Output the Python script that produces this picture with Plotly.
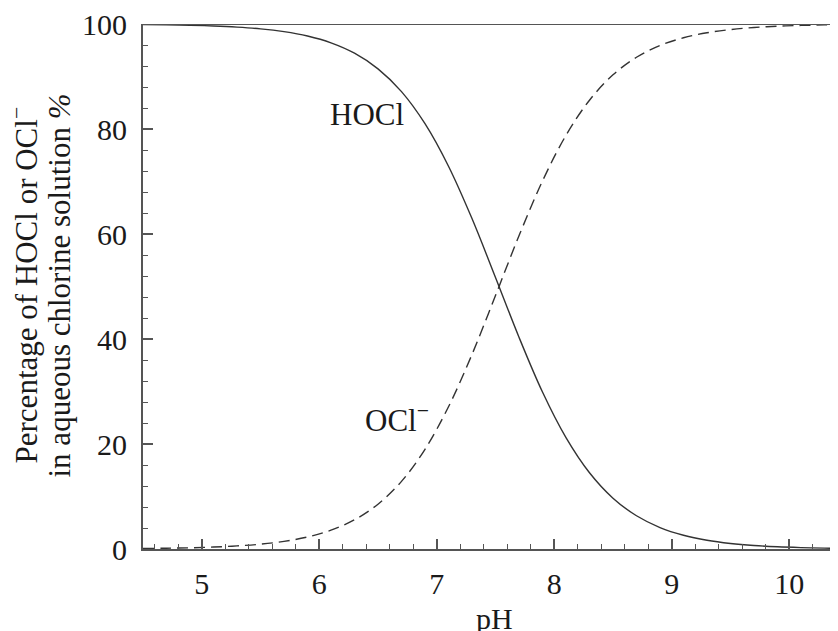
import plotly.graph_objects as go

# pH values
ph = [4.5, 4.7, 4.9, 5.1, 5.3, 5.5, 5.7, 5.9, 6.1, 6.3, 6.5, 6.7, 6.9, 7.1, 7.3,
      7.5, 7.7, 7.9, 8.1, 8.3, 8.5, 8.7, 8.9, 9.1, 9.3, 9.5, 9.7, 9.9, 10.1, 10.3, 10.5]
# Percentage HOCl
hocl = [99.91, 99.85, 99.77, 99.63, 99.41, 99.08, 98.54, 97.71, 96.42, 94.44, 91.46,
        87.12, 81.01, 72.91, 62.94, 51.72, 40.34, 29.90, 21.21, 14.52, 9.68, 6.33,
        4.09, 2.62, 1.67, 1.06, 0.67, 0.42, 0.27, 0.17, 0.11]
# Percentage OCl-
ocl = [0.09, 0.15, 0.23, 0.37, 0.59, 0.92, 1.46, 2.29, 3.58, 5.56, 8.54, 12.88,
       18.99, 27.09, 37.06, 48.28, 59.66, 70.10, 78.79, 85.48, 90.32, 93.67, 95.91,
       97.38, 98.33, 98.94, 99.33, 99.58, 99.73, 99.83, 99.89]

x_ticks = [5, 6, 7, 8, 9, 10]
y_ticks = [0, 20, 40, 60, 80, 100]

FONT = "Liberation Serif, Times New Roman, serif"
TXT = "#1a1a1a"
AX = "#555555"

fig = go.Figure()
fig.add_trace(go.Scatter(x=ph, y=hocl, mode="lines", line=dict(color="#333333", width=1.4, shape="spline"),
                         showlegend=False, hoverinfo="skip"))
fig.add_trace(go.Scatter(x=ph, y=ocl, mode="lines",
                         line=dict(color="#333333", width=1.4, dash="11px,6px", shape="spline"),
                         showlegend=False, hoverinfo="skip"))

fig.update_layout(
    width=838, height=631,
    margin=dict(l=135, r=8, t=16, b=90),
    paper_bgcolor="white", plot_bgcolor="white",
    font=dict(family=FONT, size=30, color=TXT),
    xaxis=dict(range=[4.5, 10.415], tickvals=x_ticks, ticks="inside", ticklen=10, tickwidth=1.5,
               tickcolor=AX, showline=True, linecolor=AX, linewidth=1.8, showgrid=False, zeroline=False,
               automargin=False, ticklabeloverflow="allow",
               minor=dict(dtick=0.2, tick0=0, ticks="inside", ticklen=5, tickwidth=1.2, tickcolor=AX, showgrid=False),
               tickfont=dict(family=FONT, size=30, color=TXT), ticklabelstandoff=7),
    yaxis=dict(range=[0, 100], tickvals=y_ticks, ticks="inside", ticklen=10, tickwidth=1.5,
               tickcolor=AX, showline=True, linecolor=AX, linewidth=1.8, showgrid=False, zeroline=False,
               automargin=False, ticklabeloverflow="allow",
               minor=dict(dtick=4, tick0=0, ticks="inside", ticklen=5, tickwidth=1.2, tickcolor=AX, showgrid=False),
               tickfont=dict(family=FONT, size=30, color=TXT), ticklabelstandoff=8),
    shapes=[dict(type="line", xref="paper", x0=0, x1=1, yref="y", y0=100, y1=100,
                 line=dict(color=AX, width=1.8))],
    annotations=[
        dict(text="HOCl", x=6.41, y=82.8, xref="x", yref="y", showarrow=False,
             font=dict(family=FONT, size=31, color=TXT)),
        dict(text="OCl<sup>−</sup>", x=6.665, y=24.8, xref="x", yref="y", showarrow=False,
             font=dict(family=FONT, size=31, color=TXT)),
        dict(text="pH", x=0.506, y=-0.097, xref="paper", yref="paper", xanchor="center", yanchor="top",
             showarrow=False, font=dict(family=FONT, size=30, color=TXT)),
        dict(text="Percentage of HOCl or OCl<sup>−</sup>", x=-0.1712, y=0.502, xref="paper", yref="paper",
             xanchor="center", yanchor="middle", textangle=-90, showarrow=False,
             font=dict(family=FONT, size=31, color=TXT)),
        dict(text="in aqueous chlorine solution <i>%</i>", x=-0.1208, y=0.502, xref="paper", yref="paper",
             xanchor="center", yanchor="middle", textangle=-90, showarrow=False,
             font=dict(family=FONT, size=31, color=TXT)),
    ],
)

fig.write_html("out.html")
